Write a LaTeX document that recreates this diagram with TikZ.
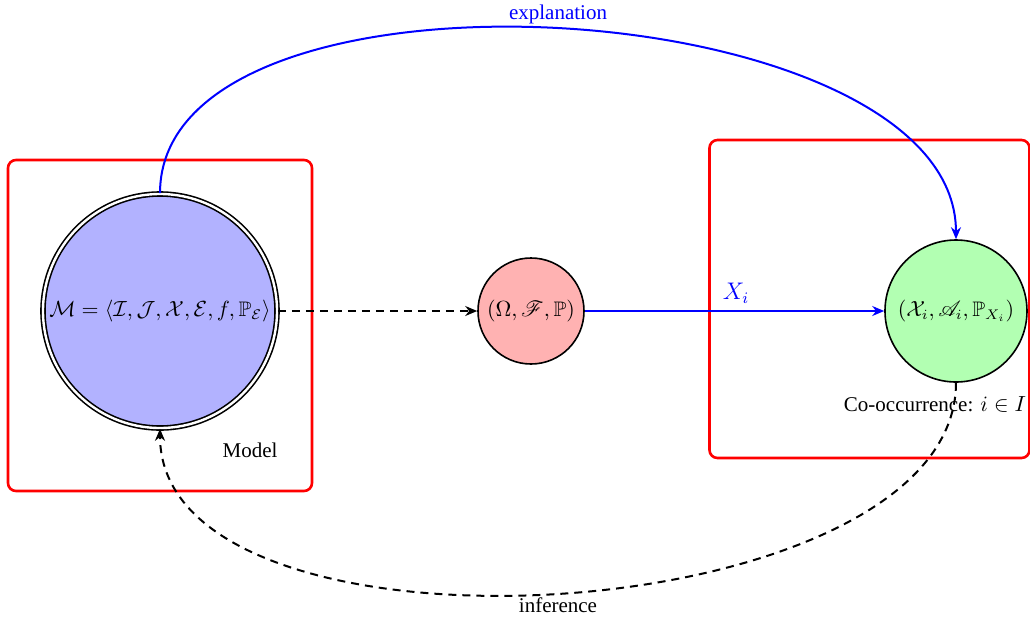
\documentclass[tikz,border=0pt]{standalone}
\usepackage{amssymb}
\usepackage{mathrsfs}
\usepackage{fontspec}
\setmainfont{Liberation Serif}
\usetikzlibrary{arrows.meta}
\begin{document}
\begin{tikzpicture}[x=0.5pt,y=-0.5pt,
  every node/.style={font=\fontsize{10.5}{12}\selectfont},
  redbox/.style={draw=red,line width=1.3pt,rounded corners=4pt},
  circ/.style={circle,draw,line width=0.8pt,inner sep=0pt},
  arr/.style={line width=1pt,-{Stealth[length=6pt,width=5pt]}},
  bluearr/.style={arr,draw=blue},
  dasharr/.style={arr,dashed,dash pattern=on 4pt off 3pt}]
\useasboundingbox (0,0) rectangle (1030,623);
\node[redbox,minimum width=152pt,minimum height=165.5pt] (boxL) at (160,325.5) {};
\node[redbox,minimum width=160pt,minimum height=159pt] (boxR) at (869.5,299) {};
\node[circ,double,double distance=1.2pt,fill=blue!30,minimum size=117pt] (M) at (160,311)
  {$\mathcal{M}=\langle\mathcal{I},\mathcal{J},\mathcal{X},\mathcal{E},f,\mathbb{P}_{\mathcal{E}}\rangle$};
\node[circ,fill=red!30,minimum size=53pt] (P) at (531,311) {$(\Omega,\mathscr{F},\mathbb{P})$};
\node[circ,fill=green!30,minimum size=71pt] (G) at (956,311) {$(\mathcal{X}_i,\mathscr{A}_i,\mathbb{P}_{X_i})$};
\node (model) at (250,450) {Model};
\node (cooc) at (935,404) {Co-occurrence: $i\in I$};
\draw[dasharr] (M) -- (P);
\draw[bluearr] (P) -- (G);
\node[text=blue,font=\large] (xi) at (736,293) {$X_i$};
\draw[bluearr] (M.north) .. controls (160,-57) and (956,-10) .. node[pos=0.5,above,text=blue,inner sep=2pt] {explanation} (G.north);
\draw[dasharr] (G.south) .. controls (956,632) and (160,679) .. node[pos=0.5,below,inner sep=2pt] {inference} (M.south);
\end{tikzpicture}
\end{document}
